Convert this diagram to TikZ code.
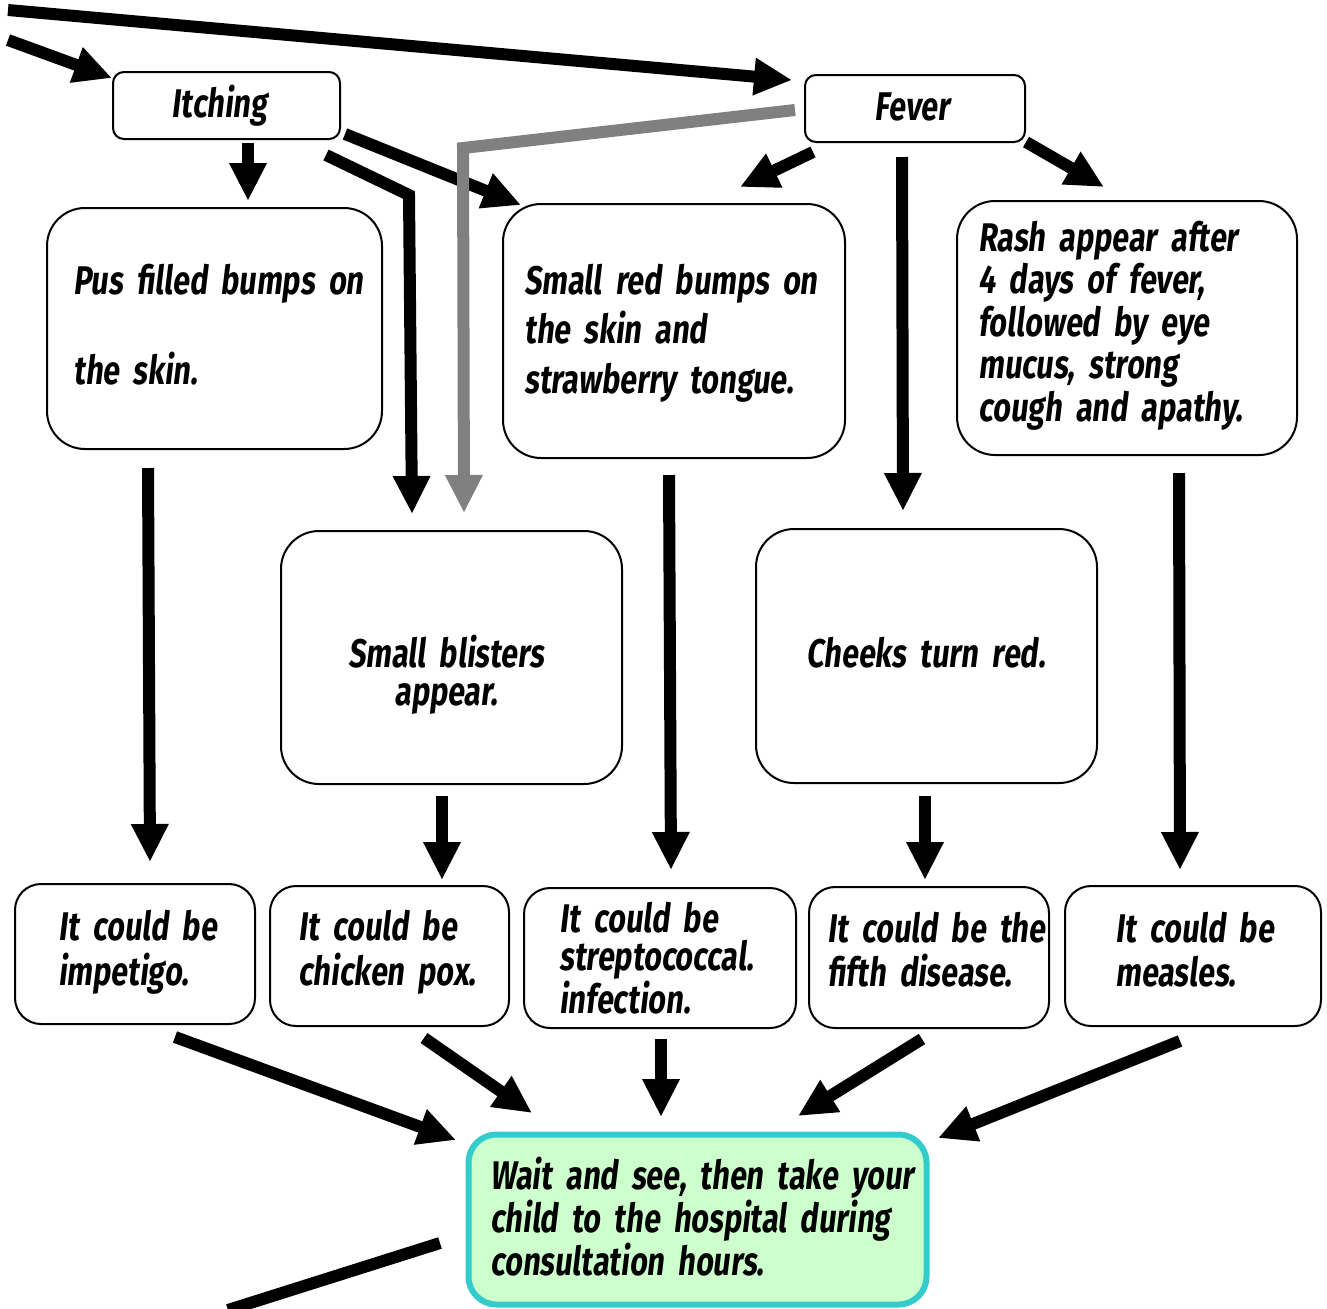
\documentclass[tikz,border=0pt]{standalone}
\usepackage{fontspec}
\setmainfont{Fira Sans}[FakeStretch=0.76, FakeSlant=0.12]
\usetikzlibrary{arrows.meta}
\definecolor{waitfill}{HTML}{CCFFCC}
\definecolor{waitline}{HTML}{33CCCC}
\definecolor{grayarrow}{HTML}{808080}
\newcommand\setlead[1]{\fontsize{20pt}{#1pt}\selectfont\bfseries}
\begin{document}
\begin{tikzpicture}[x=0.5pt,y=-0.5pt,
  box/.style={draw, line width=1pt, rounded corners=#1, inner sep=0pt, fill=white},
  txtl/.style={inner sep=0pt, anchor=base west, align=left, text width=#1},
  txtc/.style={inner sep=0pt, anchor=base, align=center, text width=#1},
  arr/.style={line width=6pt, line join=miter, -{Triangle[width=17.5pt,length=19pt]}},
  garr/.style={arr, draw=grayarrow, -{Triangle[width=17.5pt,length=19pt,fill=grayarrow]}}
]
\useasboundingbox (0,0) rectangle (1327,1308);

% symptom boxes
\node[box=5.5pt, minimum width=113.5pt, minimum height=33.5pt] (itch) at (226.5,105.5) {};
\node[box=5.5pt, minimum width=110pt, minimum height=33.5pt] (fever) at (915,108.5) {};
\node[box=19pt, minimum width=167.5pt, minimum height=120.5pt] (pus) at (214.5,328.5) {};
\node[box=19pt, minimum width=171pt, minimum height=127pt] (red) at (674,331) {};
\node[box=19pt, minimum width=170pt, minimum height=127pt] (rash) at (1127,328) {};
\node[box=19pt, minimum width=170.5pt, minimum height=126.5pt] (blis) at (451.5,657.5) {};
\node[box=19pt, minimum width=170.5pt, minimum height=127pt] (cheek) at (926.5,656) {};

% diagnosis boxes
\node[box=13pt, minimum width=120pt, minimum height=70pt] (imp) at (135,954) {};
\node[box=13pt, minimum width=119.5pt, minimum height=70pt] (chick) at (389.5,956) {};
\node[box=13pt, minimum width=136pt, minimum height=70pt] (strep) at (660,958) {};
\node[box=13pt, minimum width=120pt, minimum height=70.5pt] (fifth) at (929,957.5) {};
\node[box=13pt, minimum width=128pt, minimum height=70pt] (meas) at (1193,956) {};

% advice box
\node[draw=waitline, fill=waitfill, line width=3pt, rounded corners=14pt, inner sep=0pt,
      minimum width=229pt, minimum height=85pt] (wait) at (697.5,1219.5) {};

% texts
\node[txtc=110pt, font=\setlead{22}] (titch) at (219.5,117) {Itching};
\node[txtc=110pt, font=\setlead{22}] (tfever) at (912,120) {Fever};
\node[txtl=165pt, font=\setlead{45}] (tpus) at (73,294) {Pus filled bumps on\\the skin.};
\node[txtl=165pt, font=\setlead{24.75}] (tred) at (524,294) {Small red bumps on\\the skin and\\strawberry tongue.};
\node[txtl=165pt, font=\setlead{21.25}] (trash) at (978,251) {Rash appear after\\4 days of fever,\\followed by eye\\mucus, strong\\cough and apathy.};
\node[txtc=165pt, font=\setlead{19}] (tblis) at (446,667) {Small blisters\\appear.};
\node[txtc=165pt, font=\setlead{19}] (tcheek) at (926,667) {Cheeks turn red.};
\node[txtl=120pt, font=\setlead{22.5}] (timp) at (58,940) {It could be\\impetigo.};
\node[txtl=120pt, font=\setlead{22.5}] (tchick) at (298,940) {It could be\\chicken pox.};
\node[txtl=130pt, font=\setlead{19.25}] (tstrep) at (559,932) {It could be\\streptococcal.\\infection.};
\node[txtl=120pt, font=\setlead{22}] (tfifth) at (827,942) {It could be the\\fifth disease.};
\node[txtl=120pt, font=\setlead{22}] (tmeas) at (1115,942) {It could be\\measles.};
\node[txtl=230pt, font=\setlead{19}] (twait) at (490,1189) {Wait and see, then take your\\child to the hospital during\\consultation hours.};

% arrow end points
\coordinate (inA) at (8,10);
\coordinate (inB) at (8,40);
\coordinate (itchTip) at (112,78);
\coordinate (feverTip) at (792,80);
\coordinate (itchS) at (248,143);
\coordinate (pusN) at (248,201);
\coordinate (itchR1) at (345,134);
\coordinate (redNW) at (521,205);
\coordinate (itchR2) at (326,155);
\coordinate (bendB) at (409,195);
\coordinate (blisN1) at (412,514);
\coordinate (feverW) at (795,110);
\coordinate (bendG) at (463,148);
\coordinate (blisN2) at (464,513);
\coordinate (feverSW) at (813,152);
\coordinate (redNE) at (740,187);
\coordinate (feverS) at (902,157);
\coordinate (cheekN) at (903,511);
\coordinate (feverSE) at (1026,142);
\coordinate (rashN) at (1104,187);
\coordinate (pusS) at (148,468);
\coordinate (impN) at (150,862);
\coordinate (blisS) at (442,796);
\coordinate (chickN) at (442,880);
\coordinate (redS) at (669,475);
\coordinate (strepN) at (671,870);
\coordinate (cheekS) at (925,796);
\coordinate (fifthN) at (925,880);
\coordinate (rashS) at (1179,473);
\coordinate (measN) at (1180,870);
\coordinate (impS) at (175,1037);
\coordinate (waitA) at (456,1140);
\coordinate (chickS) at (424,1038);
\coordinate (waitB) at (532,1113);
\coordinate (strepS) at (661,1039);
\coordinate (waitC) at (661,1117);
\coordinate (fifthS) at (922,1039);
\coordinate (waitD) at (798,1116);
\coordinate (measS) at (1180,1041);
\coordinate (waitE) at (938,1138);
\coordinate (waitW) at (440,1243);
\coordinate (outEnd) at (228,1310);

% connectors
\draw[arr] (inA) -- (feverTip);
\draw[arr] (inB) -- (itchTip);
\draw[arr] (itchS) -- (pusN);
\draw[arr] (itchR1) -- (redNW);
\draw[arr] (itchR2) -- (bendB) -- (blisN1);
\draw[garr] (feverW) -- (bendG) -- (blisN2);
\draw[arr] (feverSW) -- (redNE);
\draw[arr] (feverS) -- (cheekN);
\draw[arr] (feverSE) -- (rashN);
\draw[arr] (pusS) -- (impN);
\draw[arr] (blisS) -- (chickN);
\draw[arr] (redS) -- (strepN);
\draw[arr] (cheekS) -- (fifthN);
\draw[arr] (rashS) -- (measN);
\draw[arr] (impS) -- (waitA);
\draw[arr] (chickS) -- (waitB);
\draw[arr] (strepS) -- (waitC);
\draw[arr] (fifthS) -- (waitD);
\draw[arr] (measS) -- (waitE);
\draw[line width=6pt] (waitW) -- (outEnd);
\end{tikzpicture}
\end{document}
